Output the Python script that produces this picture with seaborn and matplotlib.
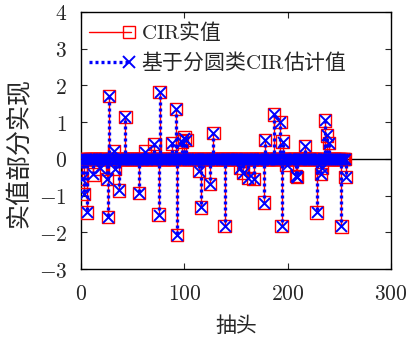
import numpy as np
import pandas as pd
import matplotlib
matplotlib.use("Agg")
import matplotlib.pyplot as plt
from matplotlib.lines import Line2D
from matplotlib.legend_handler import HandlerLine2D
from matplotlib.ticker import FuncFormatter
import seaborn as sns

# Channel impulse response: 256 taps, sparse non-zero entries
n_taps = 256
tap_index = [1, 3, 6, 12, 18, 25, 26, 27, 32, 33, 37, 43, 56, 62, 71, 75, 76,
             88, 92, 93, 98, 100, 102, 114, 116, 125, 128, 139, 154, 157, 162,
             167, 177, 178, 187, 193, 194, 195, 199, 208, 209, 217, 228, 232,
             233, 236, 238, 240, 252, 256]
cir_true = [-0.55, -0.96, -1.46, -0.42, -0.26, -0.55, -1.58, 1.71, 0.22, -0.27,
            -0.86, 1.14, -0.93, 0.20, 0.40, -1.52, 1.82, 0.42, 1.36, -2.08,
            0.47, 0.58, 0.52, -0.33, -1.32, -0.68, 0.71, -1.82, -0.25, -0.38,
            -0.52, -0.54, -1.19, 0.51, 1.21, 1.00, -1.82, 0.47, -0.16, -0.46,
            -0.50, 0.35, -1.46, -0.41, -0.24, 1.05, 0.64, 0.44, -1.84, -0.49]
cir_est = [-0.55, -0.96, -1.46, -0.42, -0.26, -0.55, -1.58, 1.71, 0.22, -0.27,
           -0.86, 1.14, -0.93, 0.20, 0.40, -1.52, 1.82, 0.42, 1.36, -2.08,
           0.47, 0.58, 0.52, -0.33, -1.32, -0.68, 0.71, -1.82, -0.25, -0.38,
           -0.52, -0.54, -1.19, 0.51, 1.21, 1.00, -1.82, 0.47, -0.16, -0.46,
           -0.50, 0.35, -1.46, -0.41, -0.24, 1.05, 0.64, 0.44, -1.84, -0.49]

taps = np.arange(1, n_taps + 1)
true_full = np.zeros(n_taps)
est_full = np.zeros(n_taps)
true_full[np.array(tap_index) - 1] = cir_true
est_full[np.array(tap_index) - 1] = cir_est
df = pd.DataFrame({"tap": taps, "true": true_full, "est": est_full})

sns.set_style("ticks")
plt.rcParams["mathtext.fontset"] = "cm"
plt.rcParams["font.family"] = ["Noto Sans CJK SC", "DejaVu Sans"]
plt.rcParams["axes.unicode_minus"] = True


class EndMarkerHandler(HandlerLine2D):
    """Legend line with its marker placed near the right end."""

    def create_artists(self, legend, orig_handle, xdescent, ydescent,
                       width, height, fontsize, trans):
        artists = super().create_artists(legend, orig_handle, xdescent,
                                         ydescent, width, height, fontsize,
                                         trans)
        line = artists[0]
        xd, yd = line.get_data()
        x0, x1 = xd[0], xd[-1]
        line.set_data([x0, x1 - 0.06 * width, x1], [yd[0]] * 3)
        line.set_markevery([1])
        return artists


fig = plt.figure(figsize=(4.08, 3.38), dpi=100)
ax = fig.add_axes([0.1985, 0.204, 0.76, 0.7605])

red = "#ff0000"
blue = "#0000ff"

ax.axhline(0, color="black", lw=1.0, zorder=1)

# true CIR: solid red stems, hollow squares
ax.vlines(df["tap"], 0, df["true"], colors=red, lw=1.0, zorder=2)
sns.scatterplot(data=df, x="tap", y="true", ax=ax, marker="s", s=80,
                facecolor="none", edgecolor=red, linewidth=1.0, zorder=3,
                legend=False)

# estimate: dotted blue stems, x markers
ax.vlines(df["tap"], 0, df["est"], colors=blue, lw=2.4,
          linestyles=(0, (0.9, 0.9)), zorder=4)
sns.scatterplot(data=df, x="tap", y="est", ax=ax, marker="x", s=62,
                color=blue, linewidth=1.4, zorder=5, legend=False)

ax.set_xlim(0, 300)
ax.set_ylim(-3, 4)
ax.set_xticks([0, 100, 200, 300])
ax.set_yticks(range(-3, 5))
fmt = FuncFormatter(lambda v, p: r"$%d$" % v)
ax.xaxis.set_major_formatter(fmt)
ax.yaxis.set_major_formatter(fmt)
ax.tick_params(direction="in", top=True, right=True, length=4, width=0.8,
               labelsize=15.5)
ax.tick_params(axis="x", pad=10)
ax.tick_params(axis="y", pad=10)
for s in ax.spines.values():
    s.set_linewidth(1.0)
    s.set_color("black")

ax.set_xlabel("抽头", fontsize=15, labelpad=7)
ax.set_ylabel("实值部分实现", fontsize=18)
ax.yaxis.set_label_coords(-0.155, 0.45)

handles = [
    Line2D([], [], color=red, lw=1.0, marker="s", markersize=9,
           markerfacecolor="none", markeredgecolor=red),
    Line2D([], [], color=blue, lw=2.4, linestyle=(0, (0.9, 0.9)), marker="x",
           markersize=8, markeredgewidth=1.4),
]
ax.legend(handles, [r"$\mathrm{CIR}$实值", r"基于分圆类$\mathrm{CIR}$估计值"],
          loc="upper left", bbox_to_anchor=(-0.02, 1.025), frameon=False,
          fontsize=15, handlelength=2.0, handletextpad=0.5,
          labelspacing=0.3, borderaxespad=0.3,
          handler_map={Line2D: EndMarkerHandler()})

fig.savefig("out.png", dpi=100)
